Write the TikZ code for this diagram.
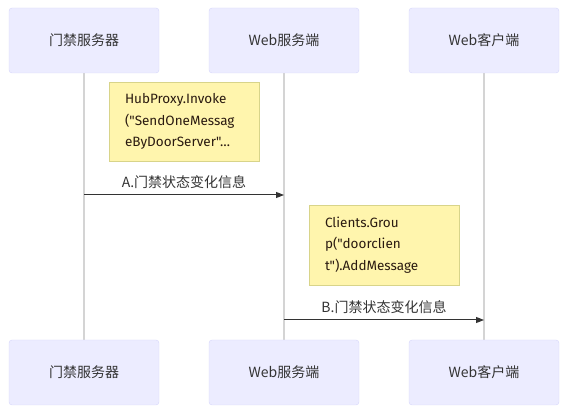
\documentclass[tikz,border=0pt]{standalone}
\usepackage{fontspec}
\setmainfont{Noto Sans CJK SC}
\newfontfamily\notefont{Fira Sans}
\usetikzlibrary{arrows.meta}
\definecolor{actorfill}{HTML}{ECECFF}
\definecolor{actorline}{HTML}{D6D6FA}
\definecolor{notefill}{HTML}{FFF5AD}
\definecolor{noteline}{HTML}{D8D48A}
\definecolor{lifeline}{HTML}{D4D4D4}
\definecolor{msgcolor}{HTML}{333333}
\definecolor{notetext}{HTML}{2A1A10}
\begin{document}
\begin{tikzpicture}[
  x=1pt, y=-1pt,
  actor/.style={draw=actorline, fill=actorfill, rounded corners=3pt, minimum width=150pt, minimum height=65pt, inner sep=0pt, font=\fontsize{14}{17}\selectfont, text=msgcolor},
  note/.style={draw=noteline, fill=notefill, minimum width=150pt, minimum height=79pt, text width=118pt, inner xsep=16pt, align=left, font=\notefont\fontsize{13.5}{21.5}\selectfont, text=notetext},
  life/.style={lifeline, line width=1.2pt},
  msg/.style={msgcolor, line width=1pt, -{Triangle[length=8pt, width=6pt]}},
  msglabel/.style={above=3pt, font=\fontsize{14}{16}\selectfont, text=msgcolor}
]
\useasboundingbox (0,0) rectangle (571,414);

% Lifelines first, behind the boxes
\coordinate (doorTop) at (84,73);
\coordinate (webTop) at (284,73);
\coordinate (clientTop) at (484,73);
\coordinate (doorBot) at (84,340);
\coordinate (webBot) at (284,340);
\coordinate (clientBot) at (484,340);
\draw[life] (doorTop) -- (doorBot);
\draw[life] (webTop) -- (webBot);
\draw[life] (clientTop) -- (clientBot);

% Top row - participants
\node[actor] (door) at (84,40.5) {门禁服务器};
\node[actor] (web) at (284,40.5) {Web服务端};
\node[actor] (client) at (484,40.5) {Web客户端};

% Bottom row - participants again
\node[actor] (doorB) at (84,372.5) {门禁服务器};
\node[actor] (webB) at (284,372.5) {Web服务端};
\node[actor] (clientB) at (484,372.5) {Web客户端};

% Notes
\node[note] (noteA) at (184,121.5) {
  HubProxy.Invoke \\
  ("SendOneMessag \\
  eByDoorServer"\dots
};
\node[note, minimum height=80pt] (noteB) at (384,245) {
  Clients.Grou \\
  p("doorclien \\
  t").AddMessage
};

% Messages
\coordinate (msgAfrom) at (84,195);
\coordinate (msgAto) at (284,195);
\coordinate (msgBfrom) at (284,320);
\coordinate (msgBto) at (484,320);
\draw[msg] (msgAfrom) -- node[msglabel] {A.门禁状态变化信息} (msgAto);
\draw[msg] (msgBfrom) -- node[msglabel] {B.门禁状态变化信息} (msgBto);

\end{tikzpicture}
\end{document}
